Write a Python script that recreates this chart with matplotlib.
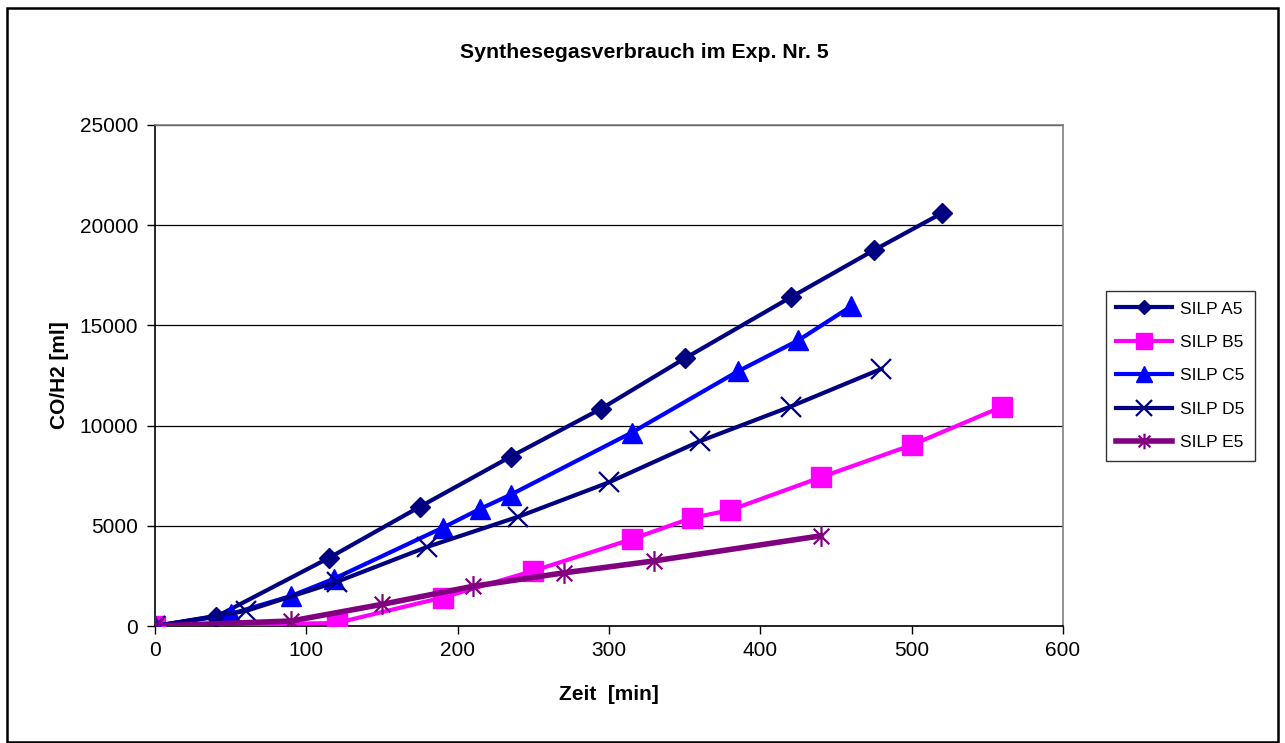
import matplotlib
matplotlib.use("Agg")
import matplotlib.pyplot as plt
from matplotlib.path import Path
from matplotlib.patches import Rectangle

plt.rcParams['font.family'] = ['Liberation Sans', 'DejaVu Sans']

# Measured gas consumption per catalyst
a5_t = [0, 40, 115, 175, 235, 295, 350, 420, 475, 520]
a5_v = [0, 450, 3400, 5950, 8450, 10850, 13350, 16400, 18750, 20600]

b5_t = [0, 120, 190, 250, 315, 355, 380, 440, 500, 560]
b5_v = [0, 150, 1420, 2750, 4330, 5400, 5780, 7420, 9030, 10950]

c5_t = [0, 50, 90, 118, 190, 215, 235, 315, 385, 425, 460]
c5_v = [0, 600, 1500, 2350, 4900, 5850, 6550, 9650, 12700, 14250, 15950]

d5_t = [0, 60, 120, 180, 240, 300, 360, 420, 480]
d5_v = [0, 750, 2200, 3950, 5450, 7170, 9220, 10950, 12830]

e5_t = [0, 90, 150, 210, 270, 330, 440]
e5_v = [0, 250, 1080, 1980, 2650, 3250, 4500]

series_names = ['SILP A5', 'SILP B5', 'SILP C5', 'SILP D5', 'SILP E5']
x_ticks = [0, 100, 200, 300, 400, 500, 600]
y_ticks = [0, 5000, 10000, 15000, 20000, 25000]

# Excel-style star: vertical stroke plus an X
star = Path([(0, -1), (0, 1), (-0.75, -0.75), (0.75, 0.75), (-0.75, 0.75), (0.75, -0.75)],
            [Path.MOVETO, Path.LINETO, Path.MOVETO, Path.LINETO, Path.MOVETO, Path.LINETO])

W, H = 1285, 743
fig = plt.figure(figsize=(W / 100, H / 100), dpi=100)
ax = fig.add_axes([155 / W, 1 - 626 / H, (1063 - 155) / W, (626 - 125) / H])

ax.plot(a5_t, a5_v, color='#000080', lw=3, marker='D', ms=10, mec='#000080', label=series_names[0], zorder=3)
ax.plot(b5_t, b5_v, color='#FF00FF', lw=3, marker='s', ms=14.5, mec='#FF00FF', label=series_names[1], zorder=3)
ax.plot(c5_t, c5_v, color='#0000FF', lw=3, marker='^', ms=14.5, mec='#0000FF', label=series_names[2], zorder=3)
ax.plot(d5_t, d5_v, color='#000080', lw=3, marker='x', ms=14.5, mew=1.6, mec='#000080', label=series_names[3], zorder=3)
ax.plot(e5_t, e5_v, color='#800080', lw=4, marker=star, ms=15, mew=1.6, mec='#800080', mfc='none', label=series_names[4], zorder=3)

ax.set_xlim(0, 600)
ax.set_ylim(0, 25000)
ax.set_xticks(x_ticks)
ax.set_yticks(y_ticks)
ax.tick_params(axis='both', direction='out', length=6, width=1, labelsize=15, colors='black')
ax.tick_params(axis='x', pad=5)
ax.tick_params(axis='y', pad=6)
ax.yaxis.grid(True, color='#000000', lw=0.9)
ax.set_axisbelow(True)
for side in ['top', 'right']:
    ax.spines[side].set_color('#808080')
    ax.spines[side].set_linewidth(1.2)
for side in ['left', 'bottom']:
    ax.spines[side].set_color('#000000')
    ax.spines[side].set_linewidth(1.2)

ax.set_xlabel('Zeit  [min]', fontsize=15, fontweight='bold', labelpad=17.5)
ax.set_ylabel('CO/H2 [ml]', fontsize=15, fontweight='bold', labelpad=8)

fig.text(644 / W, 1 - 53 / H, 'Synthesegasverbrauch im Exp. Nr. 5',
         ha='center', va='center', fontsize=15.3, fontweight='bold')

leg = ax.legend(loc='upper left', bbox_to_anchor=(1106 / W, 1 - 291 / H),
                bbox_transform=fig.transFigure, fontsize=12.5, frameon=True,
                fancybox=False, edgecolor='black', handlelength=3.2,
                handletextpad=0.45, borderpad=0.6, labelspacing=1.05,
                borderaxespad=0)
leg.get_frame().set_linewidth(1.0)
for h in leg.legend_handles:
    h.set_markersize(h.get_markersize() * 0.75)

# outer chart border
fig.patches.append(Rectangle((7 / W, 1 / H), (1278 - 7) / W, (735 - 1) / H,
                             transform=fig.transFigure, fill=False,
                             edgecolor='black', lw=1.8))

fig.savefig('out.png', dpi=100)
